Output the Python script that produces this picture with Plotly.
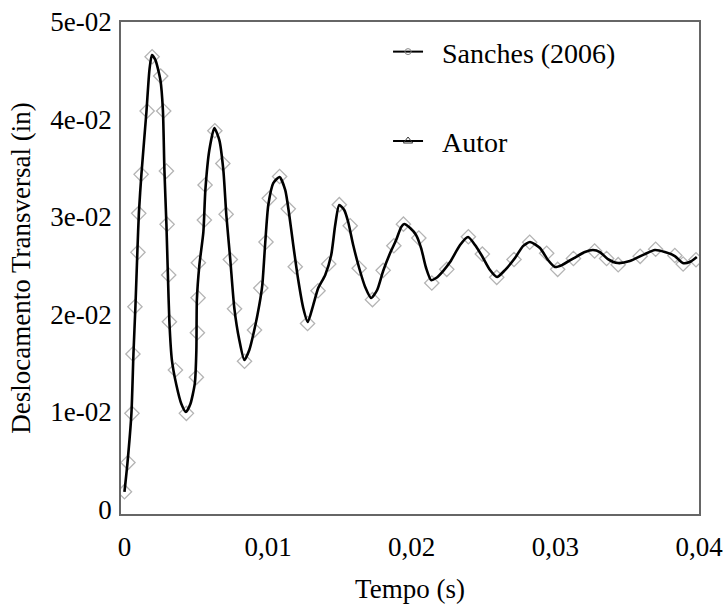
import plotly.graph_objects as go

sanches_t = [0.0, 0.000243, 0.000522, 0.000591, 0.00073, 0.000939, 0.000994, 0.001161,
             0.001579, 0.001926, 0.002524, 0.002733, 0.002921, 0.002969, 0.00308, 0.003129,
             0.003547, 0.004311, 0.005007, 0.005076, 0.005125, 0.005146, 0.005563, 0.005612,
             0.006293, 0.00685, 0.007079, 0.007371, 0.007663, 0.008359, 0.009054, 0.009492,
             0.009854, 0.010083, 0.0108, 0.011405, 0.011891, 0.012747, 0.013477, 0.014221,
             0.014958, 0.015716, 0.016342, 0.017267, 0.018011, 0.018755, 0.019423, 0.020494,
             0.021397, 0.02244, 0.023943, 0.024916, 0.025918, 0.027121, 0.028213, 0.029395,
             0.03016, 0.031258, 0.032732, 0.033567, 0.034374, 0.035904, 0.036981, 0.038317,
             0.038894, 0.039791]
sanches_y = [0.00179, 0.00478, 0.00983, 0.01592, 0.02077, 0.02636, 0.03036, 0.03436,
             0.04086, 0.04643, 0.04445, 0.04086, 0.0347, 0.02923, 0.02403, 0.01923,
             0.01428, 0.00983, 0.01353, 0.01811, 0.0217, 0.02529, 0.02967, 0.03327,
             0.03884, 0.03547, 0.03026, 0.02562, 0.02056, 0.01518, 0.01838, 0.02269,
             0.02742, 0.0319, 0.03414, 0.03082, 0.02488, 0.01905, 0.02242, 0.02516,
             0.03125, 0.02908, 0.02472, 0.0215, 0.02451, 0.02703, 0.02925, 0.02783,
             0.02321, 0.02461, 0.02796, 0.02618, 0.02379, 0.02562, 0.02739, 0.02626,
             0.02461, 0.02572, 0.02649, 0.02572, 0.02509, 0.02595, 0.02668, 0.02603,
             0.02516, 0.0256]

# Autor – curve
autor_t = [0.0, 0.000209, 0.000487, 0.000626, 0.000765, 0.000904, 0.001008, 0.001182,
           0.00153, 0.001739, 0.001912, 0.002156, 0.002503, 0.002677, 0.002782, 0.002921,
           0.003025, 0.003129, 0.003303, 0.003616, 0.003964, 0.004277, 0.00459, 0.004903,
           0.005007, 0.005042, 0.005216, 0.005494, 0.005633, 0.005911, 0.006259, 0.006606,
           0.006884, 0.007093, 0.007371, 0.007649, 0.007997, 0.008345, 0.008693, 0.00904,
           0.009388, 0.009597, 0.009805, 0.010014, 0.010361, 0.0108, 0.011196, 0.011474,
           0.011752, 0.0121, 0.012448, 0.012761, 0.013143, 0.013491, 0.013978, 0.014395,
           0.014673, 0.014951, 0.015299, 0.015577, 0.015925, 0.016342, 0.016759, 0.017176,
           0.017594, 0.018011, 0.018498, 0.018915, 0.019263, 0.019471, 0.019889, 0.020306,
           0.020653, 0.021001, 0.021349, 0.021696, 0.022183, 0.02267, 0.023365, 0.023922,
           0.024408, 0.024895, 0.025451, 0.025938, 0.026494, 0.02719, 0.027746, 0.028233,
           0.028929, 0.029485, 0.029972, 0.030458, 0.031293, 0.032058, 0.032614, 0.033101,
           0.033657, 0.034353, 0.035187, 0.03623, 0.036926, 0.037621, 0.038317, 0.038873,
           0.03936, 0.039846]
autor_y = [0.00176, 0.00473, 0.00986, 0.01592, 0.02085, 0.02659, 0.03049, 0.03439,
           0.04076, 0.04507, 0.04661, 0.0461, 0.04404, 0.04096, 0.03481, 0.02926,
           0.02403, 0.0192, 0.0153, 0.01274, 0.01079, 0.00997, 0.01079, 0.01294,
           0.01633, 0.02146, 0.02505, 0.02844, 0.03275, 0.03686, 0.03912, 0.03788,
           0.03481, 0.03019, 0.02557, 0.02064, 0.01736, 0.0153, 0.01633, 0.01838,
           0.02095, 0.023, 0.02742, 0.03121, 0.03347, 0.03409, 0.03275, 0.03019,
           0.02711, 0.02351, 0.02064, 0.0192, 0.02095, 0.02269, 0.02403, 0.02608,
           0.02916, 0.03121, 0.0307, 0.02947, 0.02711, 0.02475, 0.0228, 0.02167,
           0.02249, 0.02444, 0.02629, 0.02762, 0.02895, 0.02926, 0.02885, 0.02813,
           0.0268, 0.02475, 0.02351, 0.02372, 0.02444, 0.02536, 0.02711, 0.02793,
           0.02711, 0.02598, 0.02454, 0.02382, 0.02454, 0.02577, 0.027, 0.02742,
           0.0268, 0.02557, 0.02485, 0.02505, 0.02577, 0.02639, 0.02659, 0.02639,
           0.02567, 0.02526, 0.02546, 0.02618, 0.02659, 0.02639, 0.02598, 0.02526,
           0.02536, 0.02588]

x_tickvals = [0, 0.01, 0.02, 0.03, 0.04]
x_ticktext = ["0", "0,01", "0,02", "0,03", "0,04"]
y_tickvals = [0, 0.01, 0.02, 0.03, 0.04, 0.05]
y_ticktext = ["0", "1e-02", "2e-02", "3e-02", "4e-02", "5e-02"]

FONT = "Liberation Serif, Times New Roman, serif"
NB = "\u00a0\u00a0"

fig = go.Figure()

fig.add_trace(go.Scatter(
    x=sanches_t, y=sanches_y, mode="markers", showlegend=False,
    marker=dict(symbol="diamond-open", size=11, color="#b4b4b4",
                line=dict(width=1.3, color="#b4b4b4")),
))
fig.add_trace(go.Scatter(
    x=autor_t, y=autor_y, mode="lines", showlegend=False,
    line=dict(color="black", width=2.6, shape="spline", smoothing=0.6),
))

# legend entries
fig.add_trace(go.Scatter(
    x=[None], y=[None], mode="lines+markers", name=NB + "Sanches (2006)",
    legendgroup="a",
    line=dict(color="black", width=2),
    marker=dict(symbol="circle-open", size=6, color="#888888", line=dict(width=1)),
))
fig.add_trace(go.Scatter(
    x=[None], y=[None], mode="lines+markers", name=NB + "Autor",
    legendgroup="b",
    line=dict(color="black", width=2),
    marker=dict(symbol="triangle-up-open", size=8, color="#333333", line=dict(width=1)),
))

fig.update_layout(
    width=727, height=611,
    margin=dict(l=121, r=28, t=22, b=97),
    paper_bgcolor="white", plot_bgcolor="white",
    font=dict(family=FONT, size=27, color="black"),
    showlegend=True,
    legend=dict(x=0.462, y=0.99, xanchor="left", yanchor="top",
                bgcolor="rgba(0,0,0,0)", borderwidth=0,
                font=dict(family=FONT, size=28, color="black"),
                tracegroupgap=50, itemsizing="trace"),
    xaxis=dict(range=[-0.00024, 0.04], tickvals=x_tickvals, ticktext=x_ticktext,
               showgrid=False, zeroline=False, showline=True, mirror=True,
               linecolor="#666666", linewidth=1.5, ticks="", automargin=False,
               ticklabelstandoff=8,
               title=dict(text="Tempo (s)", font=dict(family=FONT, size=27), standoff=18)),
    yaxis=dict(range=[-0.0005, 0.05], tickvals=y_tickvals, ticktext=y_ticktext,
               showgrid=False, zeroline=False, showline=True, mirror=True,
               linecolor="#666666", linewidth=1.5, ticks="", automargin=False,
               ticklabelstandoff=2,
               title=dict(text="Deslocamento Transversal (in)", font=dict(family=FONT, size=27),
                          standoff=12)),
)

fig.write_html("out.html", config={"displayModeBar": False},
               post_script="document.body.style.margin='0';")
